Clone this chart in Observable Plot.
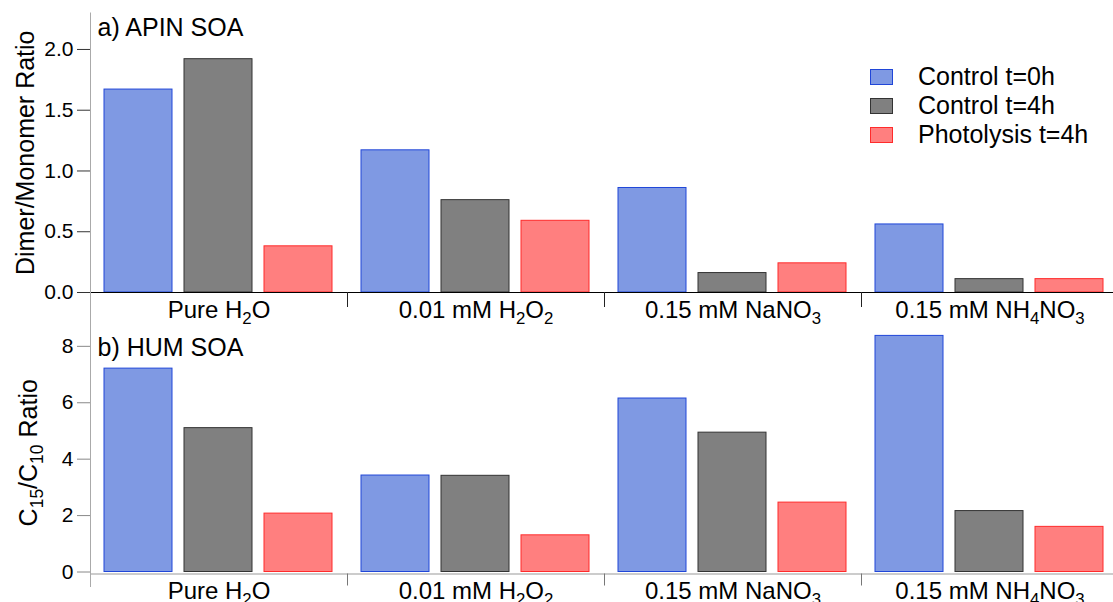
<!DOCTYPE html>
<html><head><meta charset="utf-8">
<script src="https://cdn.jsdelivr.net/npm/d3@7"></script>
<script src="https://cdn.jsdelivr.net/npm/@observablehq/plot@0.6"></script>
<style>
html,body{margin:0;padding:0;background:#fff;overflow:hidden}
#wrap{position:relative;width:1113px;height:602px;overflow:hidden;font-family:"Liberation Sans",Arial,sans-serif;background:#fff}
#top,#bottom{position:absolute;left:0}
#top{top:0}
#bottom{top:325px}
#legend{position:absolute;left:870px;top:62px;font-size:25px;color:#000}
.row{display:flex;align-items:center;height:29px;white-space:nowrap}
.sw{width:21px;height:14px;border:1px solid;margin-right:25px;box-sizing:content-box}
</style>
</head>
<body>
<div id="wrap">
  <div id="top"></div>
  <div id="bottom"></div>
  <div id="legend"></div>
</div>
<script>
// ---- data ----
const categories = ["Pure H2O", "0.01 mM H2O2", "0.15 mM NaNO3", "0.15 mM NH4NO3"];
const series = ["Control t=0h", "Control t=4h", "Photolysis t=4h"];
// a) APIN SOA  Dimer/Monomer ratio
const apinControl0 = [1.67, 1.17, 0.86, 0.56];
const apinControl4 = [1.92, 0.76, 0.16, 0.11];
const apinPhoto4   = [0.38, 0.59, 0.24, 0.11];
// b) HUM SOA  C15/C10 ratio
const humControl0 = [7.21, 3.42, 6.15, 8.37];
const humControl4 = [5.10, 3.41, 4.94, 2.16];
const humPhoto4   = [2.07, 1.30, 2.46, 1.60];
const apinTicks = [0, 0.5, 1.0, 1.5, 2.0];
const humTicks = [0, 2, 4, 6, 8];

const fills = ["#7f99e3", "#808080", "#ff7f7f"];
const strokes = ["#2046d8", "#333333", "#ff2b2b"];
const FONT = '"Liberation Sans", Arial, sans-serif';

function subscriptTexts(svg) {
  d3.select(svg).selectAll("text").each(function () {
    if (this.querySelector("tspan")) return;
    const s = this.textContent.replace(/^[↑↓←→]\s*/, "");
    if (!/[A-Za-z]\d/.test(s)) { this.textContent = s; return; }
    const parts = [];
    for (let i = 0; i < s.length; i++) {
      const c = s[i];
      const prevSub = parts.length && parts[parts.length - 1].sub;
      const sub = /\d/.test(c) && i > 0 && (/[A-Za-z]/.test(s[i - 1]) || (prevSub && /\d/.test(s[i - 1])));
      if (parts.length && parts[parts.length - 1].sub === sub) parts[parts.length - 1].t += c;
      else parts.push({t: c, sub});
    }
    const el = d3.select(this);
    el.text("");
    let wasSub = false;
    parts.forEach(p => {
      const ts = el.append("tspan").text(p.t);
      if (p.sub) { ts.attr("font-size", "0.7em").attr("dy", 6); wasSub = true; }
      else { if (wasSub) ts.attr("dy", -6); wasSub = false; }
    });
  });
}

function panel(cfg) {
  const rows = [];
  categories.forEach((c, i) => series.forEach((s, j) => rows.push({category: c, series: s, value: cfg.values[j][i]})));
  const frameH = cfg.height - cfg.marginTop - cfg.marginBottom;
  const marks = [];
  series.forEach((s, j) => marks.push(Plot.barY(rows.filter(d => d.series === s), {
    fx: "category", x: "series", y: "value", fill: fills[j], stroke: strokes[j], strokeWidth: 1
  })));
  marks.push(Plot.ruleY([0], {stroke: cfg.baseColor, dy: cfg.baseDy, strokeWidth: 1}));
  // category separators
  marks.push(Plot.frame({anchor: "left", stroke: cfg.sepColor, insetTop: frameH + cfg.baseDy, insetBottom: -cfg.sepLen}));
  // left axis line
  marks.push(Plot.frame({anchor: "left", facet: "super", stroke: "#aaaaaa", insetTop: cfg.leftTop, insetBottom: cfg.leftBottom}));
  marks.push(Plot.axisY({
    ticks: cfg.ticks, tickFormat: cfg.fmt, tickSize: 13, tickPadding: 4, fontSize: 21,
    stroke: cfg.tickColor, fill: "#000",
    label: cfg.yLabel, labelAnchor: "center", labelOffset: cfg.labelOffset, labelArrow: "none"
  }));
  marks.push(Plot.axisFx({anchor: "bottom", tickSize: 0, tickPadding: cfg.catPad, fontSize: 24, label: null, fill: "#000"}));
  marks.push(Plot.text([cfg.title], {frameAnchor: "top-left", facet: "super", dx: 7, dy: cfg.titleDy, lineAnchor: "top", fontSize: 25, fill: "#000"}));
  const svg = Plot.plot({
    width: 1118, height: cfg.height,
    marginLeft: 89, marginRight: 0, marginTop: cfg.marginTop, marginBottom: cfg.marginBottom,
    style: {fontFamily: FONT, fontSize: "21px", maxWidth: "none", background: "transparent", overflow: "visible"},
    fx: {domain: categories, padding: 0, label: null, axis: null},
    x: {domain: series, paddingInner: 0.148, paddingOuter: 0.162, axis: null},
    y: {domain: cfg.yDomain, axis: null},
    marks
  });
  d3.select(svg).selectAll('g[aria-label="y-axis label"] text').attr("font-size", 25).attr("fill", "#000");
  subscriptTexts(svg);
  return svg;
}

document.getElementById("top").appendChild(panel({
  values: [apinControl0, apinControl4, apinPhoto4],
  yDomain: [0, 2.3], ticks: apinTicks, fmt: d => d.toFixed(1),
  height: 325, marginTop: 12.5, marginBottom: 33,
  baseColor: "#000", baseDy: 0, sepColor: "#222", sepLen: 14,
  tickColor: "#333", leftTop: 0, leftBottom: -33,
  yLabel: "Dimer/Monomer Ratio", labelOffset: 74, catPad: 8.7,
  title: "a) APIN SOA", titleDy: 5.5
}));

document.getElementById("bottom").appendChild(panel({
  values: [humControl0, humControl4, humPhoto4],
  yDomain: [0, 8.455], ticks: humTicks, fmt: d => String(d),
  height: 277, marginTop: 8, marginBottom: 30.5,
  baseColor: "#999", baseDy: 2, sepColor: "#777", sepLen: 13,
  tickColor: "#888", leftTop: -8, leftBottom: -14.5,
  yLabel: "C15/C10 Ratio", labelOffset: 71, catPad: 9.5,
  title: "b) HUM SOA", titleDy: 5
}));

// legend
const lg = d3.select("#legend");
series.forEach((s, j) => {
  const r = lg.append("div").attr("class", "row");
  r.append("div").attr("class", "sw").style("background", fills[j]).style("border-color", strokes[j]);
  r.append("span").text(s);
});
</script>
</body></html>
